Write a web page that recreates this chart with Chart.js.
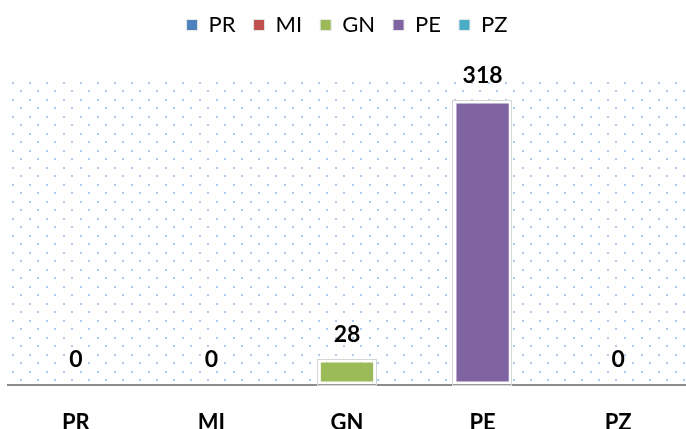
<!DOCTYPE html>
<html>
<head>
<meta charset="utf-8">
<script src="https://cdn.jsdelivr.net/npm/chart.js@4"></script>
<style>
  html, body { margin: 0; padding: 0; background: #fff; }
  #wrap { width: 686px; height: 429px; }
</style>
</head>
<body>
<div id="wrap"><canvas id="partyChart" width="686" height="429"></canvas></div>
<script>
// chart data
const categories = ['PR', 'MI', 'GN', 'PE', 'PZ'];
const seats = [0, 0, 28, 318, 0];
const barColors = ['#4F81BD', '#C0504D', '#9BBB59', '#8064A2', '#4BACC6'];
const yMax = 350;

const FONT = 'Lato, "Open Sans", sans-serif';

// dotted fill behind the plot, like the office "small dots" pattern
function makeDots(ctx) {
  const tile = document.createElement('canvas');
  tile.width = 17;
  tile.height = 17;
  const t = tile.getContext('2d');
  t.fillStyle = 'rgba(120, 172, 226, 0.6)';
  t.fillRect(12, 14, 2, 2);
  t.fillRect(3, 5, 2, 2);
  return ctx.createPattern(tile, 'repeat');
}

const dotsPlugin = {
  id: 'dots',
  beforeDatasetsDraw(chart) {
    const { ctx, chartArea } = chart;
    ctx.save();
    ctx.fillStyle = makeDots(ctx);
    ctx.fillRect(chartArea.left, chartArea.top + 4, chartArea.right - chartArea.left, chartArea.bottom - chartArea.top - 6);
    ctx.restore();
  }
};

// faint outline round the bars + the value labels
const barLabels = {
  id: 'barLabels',
  afterDatasetsDraw(chart) {
    const { ctx } = chart;
    const meta = chart.getDatasetMeta(0);
    ctx.save();
    meta.data.forEach((bar, i) => {
      const v = seats[i];
      if (v > 0) {
        const w = bar.width;
        ctx.strokeStyle = '#d6d6d6';
        ctx.lineWidth = 1;
        ctx.strokeRect(Math.round(bar.x - w / 2) - 0.5, Math.round(bar.y) - 0.5, Math.round(w) + 1, Math.round(bar.base - bar.y) + 1);
      }
      ctx.fillStyle = '#000';
      ctx.font = 'bold 23px ' + FONT;
      ctx.textAlign = 'center';
      ctx.textBaseline = 'middle';
      ctx.fillText(String(v), bar.x, bar.y - 25);
    });
    ctx.restore();
  }
};

// push the plot down below the legend
const legendGap = {
  id: 'legendGap',
  beforeInit(chart) {
    const fit = chart.legend.fit;
    chart.legend.fit = function () {
      fit.bind(this)();
      this.height += 26;
    };
  }
};

const ctx = document.getElementById('partyChart').getContext('2d');
new Chart(ctx, {
  type: 'bar',
  data: {
    labels: categories,
    datasets: [{
      label: 'Seats',
      data: seats,
      backgroundColor: barColors,
      borderColor: '#ffffff',
      borderWidth: 3,
      borderSkipped: false,
      barPercentage: 0.43,
      categoryPercentage: 1,
    }],
  },
  options: {
    responsive: false,
    animation: false,
    layout: {
      padding: { left: 8, right: 0, top: -4, bottom: -32 },
    },
    scales: {
      x: {
        grid: { display: false, drawTicks: false },
        border: { color: '#8c8c8c', width: 2 },
        ticks: {
          color: '#000',
          padding: 25,
          font: { family: FONT, size: 22, weight: 'bold' },
        },
      },
      y: {
        display: false,
        min: 0,
        max: yMax,
      },
    },
    plugins: {
      tooltip: { enabled: false },
      legend: {
        position: 'top',
        labels: {
          color: '#000',
          boxWidth: 11,
          boxHeight: 11,
          padding: 18,
          font: { family: FONT, size: 22 },
          generateLabels: (chart) => categories.map((c, i) => ({
            text: c,
            fillStyle: barColors[i],
            strokeStyle: '#e8e8e8',
            lineWidth: 1,
            hidden: false,
            index: i,
          })),
        },
      },
    },
  },
  plugins: [dotsPlugin, barLabels, legendGap],
});
</script>
</body>
</html>
